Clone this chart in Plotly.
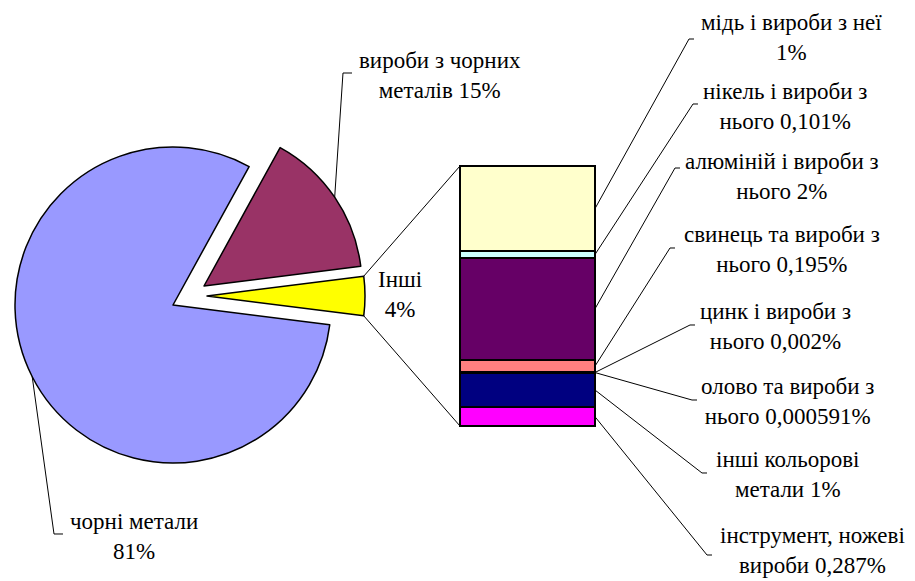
import math
import plotly.graph_objects as go

# ---------------- data ----------------
pie_labels = ["чорні метали", "вироби з чорних металів", "Інші"]
pie_values = [81, 15, 4]
pie_label_text = ["чорні метали<br>81%", "вироби з чорних<br>металів 15%", "Інші<br>4%"]
pie_colors = ["#9999FF", "#993366", "#FFFF00"]

# breakdown of "Інші" (listed top to bottom of the stacked bar)
bar_labels = ["мідь і вироби з неї", "нікель і вироби з нього", "алюміній і вироби з нього",
              "свинець та вироби з нього", "цинк і вироби з нього", "олово та вироби з нього",
              "інші кольорові метали", "інструмент, ножеві вироби"]
bar_values = [1.32, 0.101, 1.58, 0.195, 0.002, 0.000591, 0.54, 0.287]
bar_label_text = ["мідь і вироби з неї<br>1%", "нікель і вироби з<br>нього 0,101%",
                  "алюміній і вироби з<br>нього 2%", "свинець та вироби з<br>нього 0,195%",
                  "цинк і вироби з<br>нього 0,002%", "олово та вироби з<br>нього 0,000591%",
                  "інші кольорові<br>метали 1%", "інструмент, ножеві<br>вироби 0,287%"]
bar_colors = ["#FFFFCC", "#CCFFFF", "#660066", "#FF8080", "#0066CC", "#CCCCFF", "#000080", "#FF00FF"]

# ---------------- layout constants (pixels) ----------------
W, H = 915, 581
FONT = dict(family="Liberation Serif", size=23, color="black")
PIE_C = (173, 305)
R = 158
slice_offsets = [(0, 0), (31, -19), (34, -9)]
BAR_X = (460, 595)
BAR_Y = (166, 426)
PAD = 6

pie_label_pos = [(134, 536), (440, 75), (400, 294)]
pie_leader_ends = [(54, 534, 63), (343, 73, 352), None]
bar_label_pos = [(791, 37), (785, 106), (782, 177), (782, 249), (775, 326), (787, 401), (787, 474), (812, 550)]
bar_leader_ends = [(689, 39), (693, 104), (675, 168), (670, 248), (690, 325), (692, 400), (702, 473), (707, 555)]


def px(x, y):
    return x / W, 1 - y / H


total_pie = sum(pie_values)
rotation = 90 + 180 * pie_values[-1] / total_pie  # centre the "Інші" slice on the right


def slice_angles(i):
    before = sum(pie_values[:i])
    a0 = rotation + 360 * before / total_pie
    a1 = rotation + 360 * (before + pie_values[i]) / total_pie
    return a0, a1


def pt_on(center, a):
    r = math.radians(a)
    return center[0] + R * math.sin(r), center[1] - R * math.cos(r)


fig = go.Figure()

# ---- exploded pie: one trace per visible slice ----
for i in range(len(pie_values)):
    cx = PIE_C[0] + slice_offsets[i][0]
    cy = PIE_C[1] + slice_offsets[i][1]
    fig.add_trace(go.Pie(
        labels=pie_labels, values=pie_values, sort=False, direction="clockwise",
        rotation=rotation,
        marker=dict(colors=[c if j == i else "rgba(0,0,0,0)" for j, c in enumerate(pie_colors)],
                    line=dict(color="black", width=[1.5 if j == i else 0 for j in range(len(pie_values))])),
        textinfo="none", hoverinfo="label+percent", showlegend=False,
        domain=dict(x=[(cx - R) / W, (cx + R) / W], y=[1 - (cy + R) / H, 1 - (cy - R) / H]),
    ))

# ---- stacked bar (bottom first) ----
bar_total = sum(bar_values)
for k in reversed(range(len(bar_values))):
    fig.add_trace(go.Bar(
        x=[0], y=[bar_values[k]], width=1, name=bar_labels[k],
        marker=dict(color=bar_colors[k], line=dict(color="black", width=2)),
        showlegend=False, hoverinfo="name+y", xaxis="x", yaxis="y",
    ))

bar_w = BAR_X[1] - BAR_X[0]
bar_h = BAR_Y[1] - BAR_Y[0]
xr = 0.5 + PAD / bar_w
yu = bar_total / bar_h

shapes = []
annotations = []


def path_shape(points, width=1):
    p = " ".join(("M" if n == 0 else "L") + " {:.5f},{:.5f}".format(*px(x, y)) for n, (x, y) in enumerate(points))
    return dict(type="path", xref="paper", yref="paper", path=p,
                line=dict(color="black", width=width), layer="above")


def bar_px_y(v):
    return BAR_Y[1] - v / bar_total * bar_h


# series lines from the "Інші" slice to the bar
yc = (PIE_C[0] + slice_offsets[2][0], PIE_C[1] + slice_offsets[2][1])
a0, a1 = slice_angles(2)
shapes.append(path_shape([pt_on(yc, a0), (BAR_X[0], bar_px_y(bar_total))], 1))
shapes.append(path_shape([pt_on(yc, a1), (BAR_X[0], bar_px_y(0))], 1))

# pie labels and leaders
for i in range(len(pie_values)):
    c = (PIE_C[0] + slice_offsets[i][0], PIE_C[1] + slice_offsets[i][1])
    a0, a1 = slice_angles(i)
    if pie_leader_ends[i] is not None:
        ex, ey, tx = pie_leader_ends[i]
        shapes.append(path_shape([pt_on(c, (a0 + a1) / 2), (ex, ey), (tx, ey)], 1))
    x, y = px(*pie_label_pos[i])
    annotations.append(dict(x=x, y=y, xref="paper", yref="paper", text=pie_label_text[i],
                            showarrow=False, xanchor="center", yanchor="middle", align="center", font=FONT))

# bar labels and leaders
for k in range(len(bar_values)):
    base = sum(bar_values[k + 1:])
    mid = base + bar_values[k] / 2
    ex, ey = bar_leader_ends[k]
    shapes.append(path_shape([(BAR_X[1], bar_px_y(mid)), (ex, ey), (ex + 5, ey)], 1))
    x, y = px(*bar_label_pos[k])
    annotations.append(dict(x=x, y=y, xref="paper", yref="paper", text=bar_label_text[k],
                            showarrow=False, xanchor="center", yanchor="middle", align="center", font=FONT))

fig.update_layout(
    width=W, height=H, margin=dict(l=0, r=0, t=0, b=0),
    paper_bgcolor="white", plot_bgcolor="rgba(0,0,0,0)",
    barmode="stack", bargap=0, showlegend=False,
    xaxis=dict(domain=[(BAR_X[0] - PAD) / W, (BAR_X[1] + PAD) / W], range=[-xr, xr], visible=False, fixedrange=True),
    yaxis=dict(domain=[1 - (BAR_Y[1] + PAD) / H, 1 - (BAR_Y[0] - PAD) / H],
               range=[-PAD * yu, bar_total + PAD * yu], visible=False, fixedrange=True),
    shapes=shapes, annotations=annotations,
)

fig.write_html("out.html", post_script="document.body.style.margin='0';",
               config={"displayModeBar": False})
